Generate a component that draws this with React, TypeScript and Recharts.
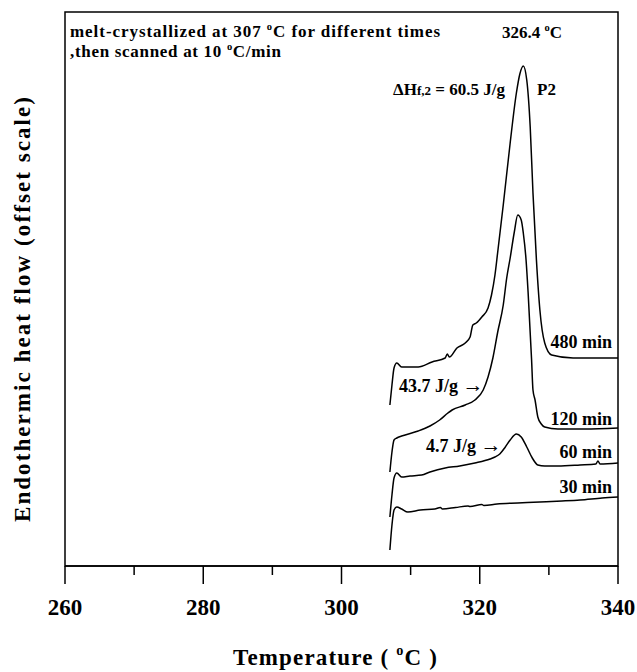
import React from "react";
import { LineChart, Line, XAxis, YAxis, ReferenceArea } from "recharts";

// DSC traces, offset scale (arbitrary units, stacked)
const temp30 = [307.0, 307.3, 307.6, 308.0, 308.7, 309.6, 311.4, 313.5, 314.3, 314.6, 316.5, 318.3, 318.6, 320.3, 320.6, 322.5, 325.5, 328.7, 331.9, 334.5, 337.7, 340.0];
const flow30 = [16, 41, 56, 59, 57, 54, 56, 57, 58.5, 57, 58.5, 60, 59.5, 61.5, 60.5, 62, 63, 64, 65, 66, 68, 69];

const temp60 = [307.0, 307.3, 307.6, 308.0, 308.7, 309.9, 311.6, 312.8, 315.0, 317.1, 319.3, 321.5, 322.2, 322.9, 323.7, 324.4, 325.3, 326.0, 326.8, 327.6, 328.4, 329.4, 331.3, 334.5, 336.8, 337.1, 337.4, 340.0];
const flow60 = [49, 71, 88, 93, 89, 90, 91, 94, 98, 100, 103, 107, 109, 112, 119, 126, 132, 129, 119, 108, 101, 100, 100, 101, 102, 105, 102, 103];

const temp120 = [307.0, 307.3, 307.6, 308.0, 308.7, 311.1, 312.8, 314.2, 315.4, 316.0, 317.9, 319.3, 320.5, 321.2, 321.9, 322.6, 323.4, 323.9, 324.4, 325.0, 325.5, 326.0, 326.3, 326.7, 327.0, 327.5, 327.7, 328.0, 328.4, 328.9, 329.4, 331.3, 335.2, 340.0];
const flow120 = [94, 114, 126, 128, 130, 135, 140, 146, 153, 156, 161, 166, 176, 189, 208, 234, 261, 288, 308, 334, 351, 346, 333, 306, 273, 206, 176, 166, 149, 142, 139, 137, 137, 138];

const temp480 = [307.0, 307.3, 307.6, 308.0, 308.7, 311.1, 313.1, 315.0, 315.3, 315.6, 316.7, 317.9, 318.6, 319.0, 319.5, 320.3, 321.2, 321.7, 322.2, 322.6, 323.4, 324.4, 325.3, 325.8, 326.3, 326.8, 327.3, 327.7, 328.2, 328.7, 329.4, 330.4, 333.5, 340.0];
const flow480 = [161, 181, 198, 203, 199, 199, 204, 208, 212, 209, 218, 223, 229, 241, 243, 249, 258, 271, 291, 314, 361, 423, 473, 492, 500, 486, 439, 373, 306, 256, 223, 211, 208, 208];

const xTicks = [260, 270, 280, 290, 300, 310, 320, 330, 340];

const toRows = (t: number[], f: number[]) => t.map((x, i) => ({ t: x, v: f[i] }));

const series = [
  { key: "30", data: toRows(temp30, flow30) },
  { key: "60", data: toRows(temp60, flow60) },
  { key: "120", data: toRows(temp120, flow120) },
  { key: "480", data: toRows(temp480, flow480) },
];

const serif = { fontFamily: "Liberation Serif", fontWeight: 700 };

const Tick = (props: any) => {
  const { x, y, payload } = props;
  const major = payload.value % 20 === 0;
  return (
    <g>
      <line x1={x} x2={x} y1={y} y2={y + (major ? 18 : 9)} stroke="#000" strokeWidth={1.5} />
      {major && (
        <text x={x} y={y + 49} textAnchor="middle" style={serif} fontSize={23} fill="#000">
          {payload.value}
        </text>
      )}
    </g>
  );
};

const Deg = ({ size }: { size: number }) => (
  <tspan fontSize={size * 0.62} dy={-size * 0.42}>o</tspan>
);

export default function App() {
  // pinned to the viewport so coordinates below are page pixels (no scrollbars)
  const W = 637;
  const H = 672;
  const f = 17;
  const lf = 18;
  return (
    <div style={{ position: "fixed", left: 0, top: 0, width: W, height: H, overflow: "hidden", background: "#fff" }}>
      <LineChart width={W} height={H} margin={{ top: 12, right: 19, left: 65, bottom: 0 }}>
        <XAxis
          dataKey="t"
          type="number"
          domain={[260, 340]}
          ticks={xTicks}
          interval={0}
          height={106}
          tickSize={0}
          tickMargin={0}
          tickLine={false}
          axisLine={{ stroke: "#000", strokeWidth: 1.5 }}
          tick={<Tick />}
          allowDataOverflow
        />
        <YAxis type="number" domain={[0, 554]} hide allowDataOverflow />
        <ReferenceArea x1={260} x2={340} y1={0} y2={554} fill="none" stroke="#000" strokeWidth={1.5} />
        {series.map((s) => (
          <Line
            key={s.key}
            data={s.data}
            dataKey="v"
            type="monotone"
            stroke="#000"
            strokeWidth={1.5}
            dot={false}
            isAnimationActive={false}
          />
        ))}
      </LineChart>
      <svg width={W} height={H} style={{ position: "absolute", left: 0, top: 0, pointerEvents: "none" }}>
        <g style={serif} fontSize={f} fill="#000">
          <text x={70} y={37} textLength={370} lengthAdjust="spacing">
            melt-crystallized at 307 <Deg size={f} /><tspan dy={f * 0.42}>C for different times</tspan>
          </text>
          <text x={70} y={57} textLength={211} lengthAdjust="spacing">
            ,then scanned at 10 <Deg size={f} /><tspan dy={f * 0.42}>C/min</tspan>
          </text>
          <text x={502} y={38}>
            326.4 <Deg size={f} /><tspan dy={f * 0.42}>C</tspan>
          </text>
          <text x={393} y={95}>
            ΔH<tspan fontSize={13}>f,2</tspan> = 60.5 J/g
          </text>
          <text x={537} y={95}>P2</text>
        </g>
        <g style={serif} fontSize={lf} fill="#000">
          <text x={612} y={348} textAnchor="end">480 min</text>
          <text x={399} y={392}>
            43.7 J/g <tspan style={{ fontWeight: 400 }} fontSize={21}>→</tspan>
          </text>
          <text x={612} y={425} textAnchor="end">120 min</text>
          <text x={426} y={452}>
            4.7 J/g <tspan style={{ fontWeight: 400 }} fontSize={21}>→</tspan>
          </text>
          <text x={612} y={458} textAnchor="end">60 min</text>
          <text x={612} y={493} textAnchor="end">30 min</text>
        </g>
        <text style={serif} fill="#000" x={233} y={665} fontSize={23} textLength={204} lengthAdjust="spacing">
          Temperature ( <Deg size={23} /><tspan dy={23 * 0.42}>C )</tspan>
        </text>
        <text
          style={serif}
          fill="#000"
          x={0}
          y={0}
          fontSize={23}
          textLength={425}
          lengthAdjust="spacing"
          transform="translate(30 522) rotate(-90)"
        >
          Endothermic heat flow (offset scale)
        </text>
      </svg>
    </div>
  );
}
